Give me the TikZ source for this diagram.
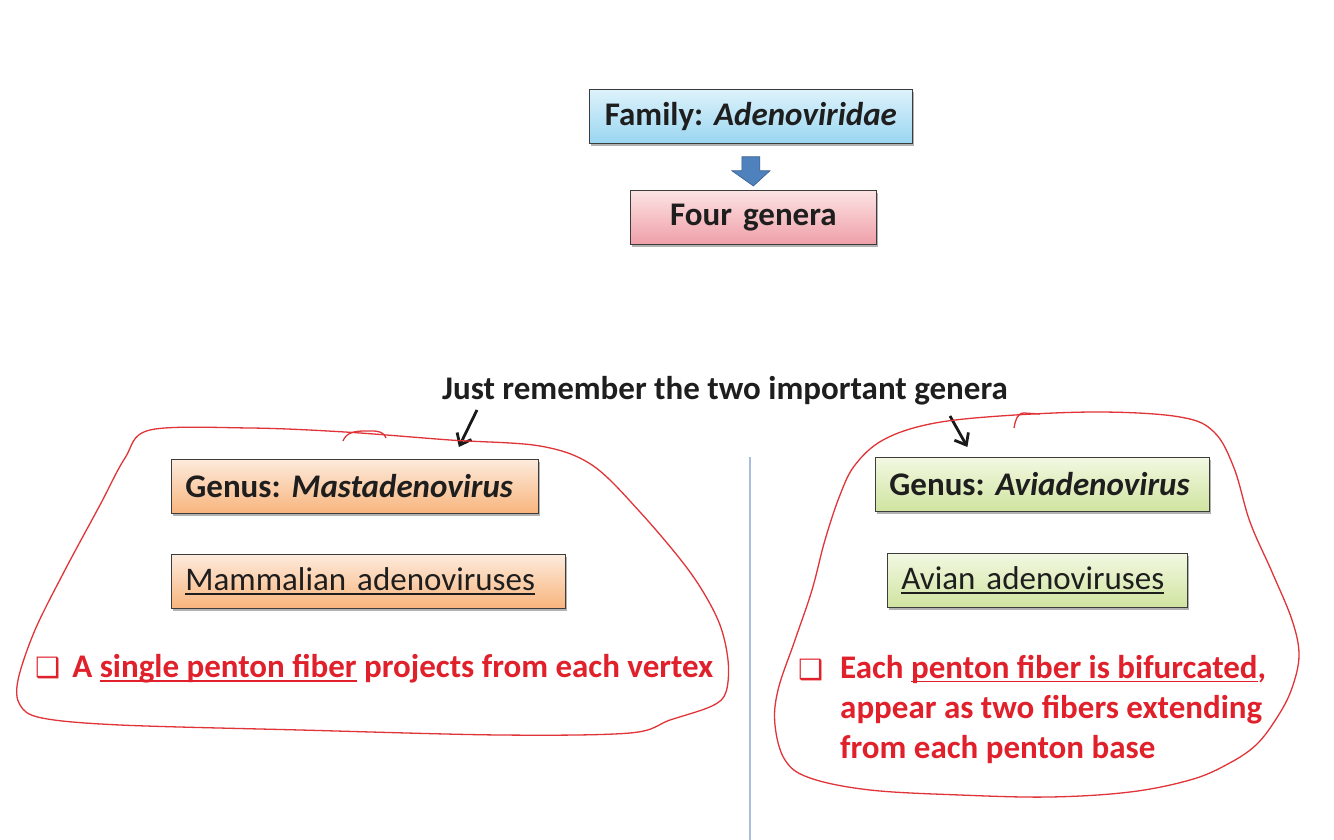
\documentclass[tikz,border=0pt]{standalone}
\usepackage{fontspec}
\setmainfont{Carlito}
\newfontfamily\symfont{DejaVu Sans}
\newcommand\uln[1]{\setbox0\hbox{#1}\rlap{\rule[-4pt]{\wd0}{1.6pt}}\box0\relax}
\usetikzlibrary{shadows,arrows.meta,calc}
\definecolor{boxline}{HTML}{3C3C3C}
\definecolor{txt}{HTML}{1E1E1E}
\definecolor{redtxt}{HTML}{E0202A}
\definecolor{redline}{HTML}{E03438}
\definecolor{blueTop}{HTML}{DDF2FB}
\definecolor{blueBot}{HTML}{9AD6F1}
\definecolor{pinkTop}{HTML}{FCE3E4}
\definecolor{pinkBot}{HTML}{EF9FA8}
\definecolor{orTop}{HTML}{FDEBDC}
\definecolor{orBot}{HTML}{F8B47D}
\definecolor{grTop}{HTML}{F2F8E2}
\definecolor{grBot}{HTML}{D0E4A0}
\definecolor{arrowblue}{HTML}{4F81BD}
\definecolor{arrowedge}{HTML}{385D8A}
\definecolor{divider}{HTML}{A7BEDC}
\frenchspacing
\begin{document}
\begin{tikzpicture}[x=1pt,y=-1pt,
  box/.style={draw=boxline, line width=0.8pt, inner xsep=14pt, inner ysep=0pt,
    minimum height=54pt, anchor=north west, text=txt,
    font=\fontsize{33}{38}\selectfont,
    drop shadow={shadow xshift=2pt,shadow yshift=-3pt,opacity=0.3,fill=black}},
  bluebox/.style={box, top color=blueTop, bottom color=blueBot},
  pinkbox/.style={box, top color=pinkTop, bottom color=pinkBot},
  orbox/.style={box, top color=orTop, bottom color=orBot},
  grbox/.style={box, top color=grTop, bottom color=grBot},
  redtext/.style={text=redtxt, font=\fontsize{33}{40}\selectfont\bfseries, inner sep=0pt},
  loop/.style={draw=redline, line width=1.3pt},
  pointer/.style={draw=black!90, line width=2.8pt, -{Straight Barb[length=10pt,width=16pt,line width=2.8pt]}},
]
\useasboundingbox (0,0) rectangle (1334,840);
\fill[white] (0,0) rectangle (1334,840);

% top hierarchy
\node[bluebox, text width=295pt, align=center] (fam) at (589,89) {\bfseries Family: \itshape Adenoviridae};
\node[pinkbox, text width=218pt, align=center] (four) at (630,190) {\bfseries Four genera};
\draw[fill=arrowblue, draw=arrowedge, line width=0.6pt]
  ($(fam.south)+(-9,13)$) -- ($(fam.south)+(9,13)$) -- ($(fam.south)+(9,27)$) -- ($(fam.south)+(19,27)$)
  -- ($(four.north)+(0,-4)$) -- ($(fam.south)+(-19,27)$) -- ($(fam.south)+(-9,27)$) -- cycle;

% remark
\node[text=txt, font=\fontsize{33}{38}\selectfont\bfseries, inner sep=0pt] (just) at (725,391) {Just remember the two important genera};

% divider
\coordinate (dtop) at (750,457);
\coordinate (dbot) at (750,840);
\draw[divider, line width=1.2pt] (dtop) -- (dbot);

% left genus
\node[orbox, text width=339pt, align=left] (mast) at (171,459) {\bfseries Genus: \itshape Mastadenovirus};
\node[orbox, text width=366pt, align=left] (mamm) at (171,554) {\uln{Mammalian adenoviruses}};
\node[redtext, anchor=west] (lefttxt) at (35,669) {{\symfont\fontsize{28}{30}\selectfont ❑}\hspace{12pt}A \uln{single penton fiber} projects from each vertex};

% right genus
\node[grbox, text width=306pt, align=left] (avia) at (875,457) {\bfseries Genus: \itshape Aviadenovirus};
\node[grbox, text width=272pt, align=left] (avian) at (887,553) {\uln{Avian adenoviruses}};
\node[redtext, anchor=north west] (rbul) at (798,659) {\symfont\fontsize{28}{30}\selectfont ❑};
\node[redtext, anchor=north west, align=left] (righttxt) at (840,655) {Each \uln{penton fiber is bifurcated},\\appear as two fibers extending\\from each penton base};

% pointers
\coordinate (p1) at (477,410);
\coordinate (p2) at (950,416);
\draw[pointer] (p1) -- ($(mast.north)+(104,-12)$);
\draw[pointer] (p2) -- ($(avia.north)+(-75,-10)$);

% freehand loops
\draw[loop] plot[smooth cycle, tension=0.55] coordinates {
 (150,430) (250,428) (345,432) (450,440) (540,446) (592,465) (640,512) (690,572) (718,620)
 (728,660) (726,692) (712,706) (670,720) (630,733) (500,735) (300,730) (120,725) (42,718)
 (20,705) (18,680) (35,630) (65,570) (100,505) (125,458)};
\draw[loop] (343,441) to[out=70,in=180] (365,431) to[out=0,in=110] (386,438);

\draw[loop] plot[smooth cycle, tension=0.6] coordinates {
 (883,440) (930,424) (1000,416) (1100,412) (1180,417) (1214,432) (1234,468) (1250,522)
 (1272,572) (1292,620) (1299,655) (1292,688) (1278,716) (1256,745) (1226,765) (1190,780) (1130,792)
 (1050,797) (960,795) (870,790) (810,778) (785,760) (775,725) (778,690) (795,640)
 (812,590) (825,540) (840,495) (855,465)};
\draw[loop] (1014,428) to[out=80,in=180] (1024,413) -- (1040,414);
\end{tikzpicture}
\end{document}
